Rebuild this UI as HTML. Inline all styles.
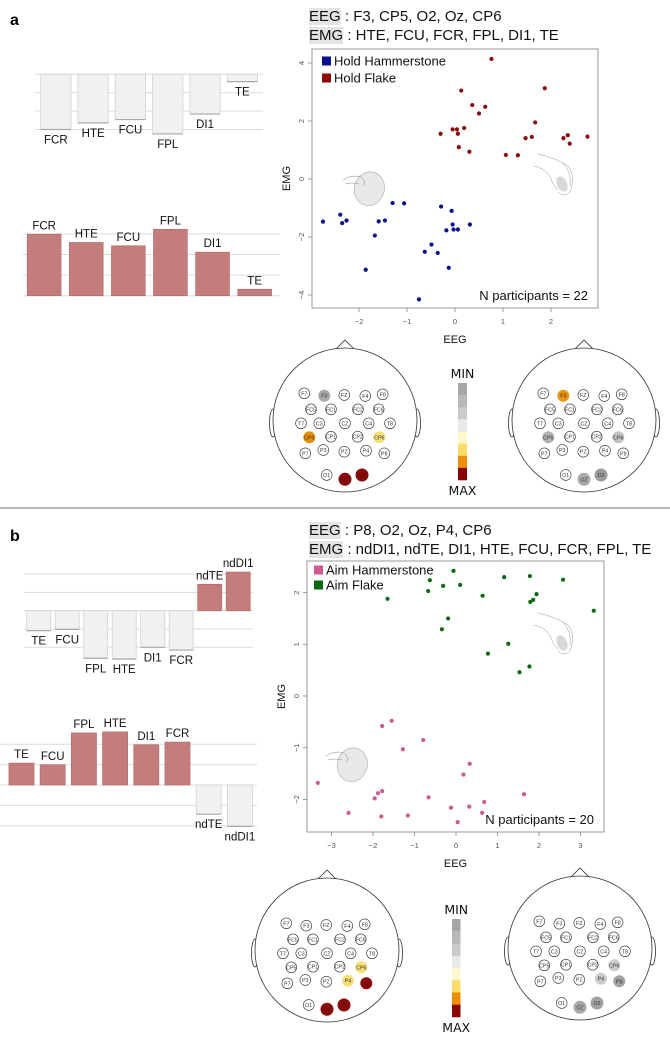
<!DOCTYPE html>
<html><head><meta charset="utf-8">
<style>
html,body{margin:0;padding:0;background:#fff;}
#wrap{position:relative;width:670px;height:1039px;overflow:hidden;font-family:"Liberation Sans",sans-serif;}
svg{position:absolute;left:0;top:0;}
.hdr{position:absolute;font-size:15px;color:#111;white-space:nowrap;line-height:19px;}
.hl{background:#e4e4e4;}
</style></head>
<body>
<div id="wrap">
<svg id="svg" width="670" height="1039" viewBox="0 0 670 1039"></svg>
<div class="hdr" style="left:309px;top:7px;"><span class="hl">EEG</span> : F3, CP5, O2, Oz, CP6</div>
<div class="hdr" style="left:309px;top:26px;"><span class="hl">EMG</span> : HTE, FCU, FCR, FPL, DI1, TE</div>
<div class="hdr" style="left:309px;top:521px;"><span class="hl">EEG</span> : P8, O2, Oz, P4, CP6</div>
<div class="hdr" style="left:309px;top:540px;"><span class="hl">EMG</span> : ndDI1, ndTE, DI1, HTE, FCU, FCR, FPL, TE</div>
</div>
<script>
// ---------- DATA ----------
const barsATopCats = ['FCR','HTE','FCU','FPL','DI1','TE'];
const barsATopVals = [-3.0,-2.64,-2.46,-3.24,-2.16,-0.4];
const barsABotCats = ['FCR','HTE','FCU','FPL','DI1','TE'];
const barsABotVals = [2.98,2.58,2.42,3.22,2.11,0.31];
const barsBTopCats = ['TE','FCU','FPL','HTE','DI1','FCR','ndTE','ndDI1'];
const barsBTopVals = [-1.09,-1.02,-2.6,-2.64,-2.0,-2.15,1.44,2.11];
const barsBBotCats = ['TE','FCU','FPL','HTE','DI1','FCR','ndTE','ndDI1'];
const barsBBotVals = [1.07,0.99,2.55,2.6,1.97,2.1,-1.43,-2.03];

const holdHammerX = [-2.75,-2.39,-2.35,-2.26,-1.86,-1.67,-1.59,-1.46,-1.30,-1.06,-0.75,-0.63,-0.49,-0.36,-0.29,-0.18,-0.13,-0.07,-0.05,-0.03,0.06,0.31];
const holdHammerY = [-1.47,-1.23,-1.52,-1.43,-3.13,-1.95,-1.46,-1.43,-0.83,-0.84,-4.15,-2.51,-2.26,-2.55,-0.95,-1.77,-3.06,-1.10,-1.57,-1.74,-1.74,-1.57];
const holdFlakeX = [0.76,0.13,1.87,0.36,0.63,0.50,1.67,-0.30,-0.05,0.04,0.19,0.06,0.08,0.30,1.06,1.31,1.47,1.60,2.26,2.35,2.39,2.76];
const holdFlakeY = [4.14,3.05,3.13,2.55,2.49,2.26,1.95,1.56,1.71,1.71,1.76,1.56,1.10,0.94,0.83,0.82,1.41,1.45,1.41,1.51,1.22,1.46];
const aimFlakeX = [-0.06,-0.63,-0.31,0.10,-0.67,-1.65,1.16,1.78,2.58,0.64,1.94,1.86,1.79,3.32,-0.19,-0.34,1.26,0.77,1.77,1.53];
const aimFlakeY = [2.42,2.24,2.13,2.15,2.03,1.88,2.30,2.32,2.25,1.94,1.97,1.86,1.82,1.65,1.50,1.29,1.01,0.82,0.57,0.46];
const aimHammerX = [-1.55,-1.78,-0.79,-1.28,0.33,0.18,-3.33,-1.78,-1.88,-1.96,-0.66,1.64,-2.59,-1.80,-1.16,-0.12,0.32,0.68,0.63,0.04];
const aimHammerY = [-0.48,-0.58,-0.85,-1.03,-1.31,-1.52,-1.68,-1.84,-1.88,-1.98,-1.96,-1.90,-2.26,-2.33,-2.31,-2.16,-2.14,-2.05,-2.26,-2.44];
const ticksAX = [-2,-1,0,1,2];
const ticksAY = [-4,-2,0,2,4];
const ticksBX = [-3,-2,-1,0,1,2,3];
const ticksBY = [-2,-1,0,1,2];

const electrodeNames = ['F7','F3','FZ','F4','F8','FC5','FC1','FC2','FC6','T7','C3','CZ','C4','T8','CP5','CP1','CP2','CP6','P7','P3','PZ','P4','P8','O1','OZ','O2'];
const headALeftFill = {F3:'#a9a9a9',CP5:'#e8900c',CP6:'#f9df78',OZ:'#8a0a0a',O2:'#8a0a0a'};
const headARightFill = {F3:'#ec9410',CP5:'#b4b4b4',CP6:'#c2c2c2',OZ:'#aaaaaa',O2:'#9c9c9c'};
const headBLeftFill = {CP6:'#f9df78',P4:'#f9df78',P8:'#8a0a0a',OZ:'#8a0a0a',O2:'#8a0a0a'};
const headBRightFill = {CP6:'#cccccc',P4:'#cccccc',P8:'#a3a3a3',OZ:'#a8a8a8',O2:'#a3a3a3'};
const colorbarColors = ['#a6a6a6','#b8b8b8','#cacaca','#e9e9e9','#fff7cc','#fbdc6a','#ec8f05','#8a0606'];

// layout (not data)
const electrodeDX = [-40.7,-20.7,-0.7,20.3,37.7,-34,-14,13,33.7,-44,-25.7,0,23.7,45,-35.7,-14,12.7,34.3,-39.7,-21.7,-0.7,21,39.3,-18.3,0,17];
const electrodeDY = [-26.7,-24.3,-25,-24,-25.7,-10.7,-10.7,-10.7,-10.7,3.3,3.3,3.3,3.3,3.3,17.3,16.7,16.7,17.3,33.3,30,31.7,30.7,33.3,55,59.3,55];

const NS='http://www.w3.org/2000/svg';
const svg=document.getElementById('svg');
function mk(tag,attrs,parent){const e=document.createElementNS(NS,tag);for(const k in attrs)e.setAttribute(k,attrs[k]);(parent||svg).appendChild(e);return e;}
function txt(s,attrs,parent){const e=mk('text',attrs,parent);e.textContent=s;return e;}

let t=txt('a',{x:10,y:25,'font-size':16,'font-weight':'bold','font-family':'Liberation Sans, sans-serif'});


t=txt('b',{x:10,y:541,'font-size':16,'font-weight':'bold','font-family':'Liberation Sans, sans-serif'});


let sep=mk('line',{x1:0,y1:508,x2:670,y2:508,stroke:'#8c8c8c','stroke-width':1.2});



// ---------- BAR CHARTS ----------
function barChart(name,cats,vals,cfg){
  const g=mk('g',{});
  
  
  const yOf=v=>cfg.base - v*cfg.unit;
  cfg.grid.forEach(gv=>{
    const l=mk('line',{x1:cfg.gx0,x2:cfg.gx1,y1:yOf(gv),y2:yOf(gv),stroke:'#dcdcdc','stroke-width':1},g);
    
    
  });
  cats.forEach((c,i)=>{
    const v=vals[i];
    const x=cfg.start+i*cfg.pitch;
    const y0=yOf(Math.max(v,0)), y1=yOf(Math.min(v,0));
    const red=(v>0)===cfg.posRed;
    const r=mk('rect',{x:x,y:y0,width:cfg.w,height:Math.max(1,y1-y0),fill:red?'#c47d7d':'#f1f1f1',stroke:red?'#b86e6e':'#d2d2d2','stroke-width':0.8},g);
    
    
    if(!red){
      const sh=mk('line',{x1:x,x2:x+cfg.w,y1:v<0?y1:y0,y2:v<0?y1:y0,stroke:'#a8a8a8','stroke-width':1.2},g);
      
      
    }
    const ly = v<0 ? y1+14 : y0-5;
    const lb=txt(c,{x:x+cfg.w/2,y:ly,'text-anchor':'middle','font-size':11.5,'font-family':'Liberation Sans, sans-serif',fill:'#111'},g);
    
    
  });
}
barChart('bars-a-hold-hammer',barsATopCats,barsATopVals,{base:74.3,unit:18.4,start:40.7,pitch:37.3,w:30.3,grid:[0,-1,-2,-3],gx0:35,gx1:263,posRed:true});
barChart('bars-a-hold-flake',barsABotCats,barsABotVals,{base:295.7,unit:20.6,start:27.3,pitch:42.1,w:33.7,grid:[0,1,2,3],gx0:23,gx1:280,posRed:true});
barChart('bars-b-aim-hammer',barsBTopCats,barsBTopVals,{base:610.7,unit:18.3,start:26.7,pitch:28.5,w:24,grid:[-2,-1,0,1,2],gx0:24,gx1:253,posRed:true});
barChart('bars-b-aim-flake',barsBBotCats,barsBBotVals,{base:785,unit:20.4,start:9,pitch:31.2,w:25,grid:[-2,-1,0,1,2],gx0:0,gx1:257,posRed:true});

// ---------- illustrations ----------
function rock(cx,cy,name){
  const g=mk('g',{});
  
  
  mk('ellipse',{cx:cx+3,cy:cy+2,rx:15,ry:17,fill:'#e8e8e8',stroke:'#aaa','stroke-width':0.6,transform:`rotate(15 ${cx} ${cy})`},g);
  mk('path',{d:`M${cx-24} ${cy-6} Q${cx-16} ${cy-12} ${cx-6} ${cy-9} Q${cx} ${cy-4} ${cx-4} ${cy} M${cx-22} ${cy-2} Q${cx-14} ${cy-4} ${cx-8} ${cy-2}`,fill:'none',stroke:'#888','stroke-width':0.5},g);
}
function hand(cx,cy,name){
  const g=mk('g',{});
  
  
  mk('path',{d:`M${cx-18} ${cy-22} Q${cx} ${cy-18} ${cx+12} ${cy-10} Q${cx+20} ${cy} ${cx+14} ${cy+16} Q${cx+8} ${cy+22} ${cx+2} ${cy+16} M${cx-22} ${cy-10} Q${cx-12} ${cy-8} ${cx-6} ${cy} Q${cx-4} ${cy+8} ${cx+2} ${cy+14} M${cx+6} ${cy-14} Q${cx+16} ${cy-4} ${cx+14} ${cy+10}`,fill:'none',stroke:'#999','stroke-width':0.5},g);
  mk('ellipse',{cx:cx+6,cy:cy+8,rx:5,ry:8,fill:'#d8d8d8',transform:`rotate(-25 ${cx+6} ${cy+8})`},g);
}

// ---------- SCATTER ----------
function scatter(name,cfg,series,tx,ty,nText){
  const g=mk('g',{});
  
  
  const X=v=>cfg.x0px+v*cfg.ux, Y=v=>cfg.y0px-v*cfg.uy;
  cfg.illus();
  const fr=mk('rect',{x:cfg.L,y:cfg.T,width:cfg.R-cfg.L,height:cfg.B-cfg.T,fill:'none',stroke:'#999','stroke-width':1},g);
  
  
  tx.forEach(v=>{
    const l=mk('line',{x1:X(v),x2:X(v),y1:cfg.B,y2:cfg.B+4,stroke:'#888','stroke-width':0.8},g);
    
    
    const s=txt(String(v).replace('-','\u2212'),{x:X(v),y:cfg.B+16,'text-anchor':'middle','font-size':7.5,fill:'#555','font-family':'Liberation Sans, sans-serif'},g);
    
    
  });
  ty.forEach(v=>{
    const l=mk('line',{x1:cfg.L-4,x2:cfg.L,y1:Y(v),y2:Y(v),stroke:'#888','stroke-width':0.8},g);
    
    
    const s=txt(String(v).replace('-','\u2212'),{x:cfg.L-8,y:Y(v),'text-anchor':'middle','font-size':7.5,fill:'#555','font-family':'Liberation Sans, sans-serif',transform:`rotate(-90 ${cfg.L-8} ${Y(v)})`},g);
    
    
  });
  let xl=txt('EEG',{x:(cfg.L+cfg.R)/2,y:cfg.B+35,'text-anchor':'middle','font-size':11,fill:'#111','font-family':'Liberation Sans, sans-serif'},g);
  
  
  const ym=(cfg.T+cfg.B)/2;
  let yl=txt('EMG',{x:cfg.L-22,y:ym,'text-anchor':'middle','font-size':11,fill:'#111','font-family':'Liberation Sans, sans-serif',transform:`rotate(-90 ${cfg.L-22} ${ym})`},g);
  
  
  series.forEach((s,si)=>{
    s.xs.forEach((xv,i)=>{
      const c=mk('circle',{cx:X(xv),cy:Y(s.ys[i]),r:2.1,fill:s.color},g);
      
      
    });
    const ly=cfg.legY+si*cfg.legDY;
    const sq=mk('rect',{x:cfg.legX,y:ly-4.5,width:9,height:9,fill:s.color},g);
    
    
    const lt=txt(s.label,{x:cfg.legX+12,y:ly+4.5,'font-size':13,fill:'#111','font-family':'Liberation Sans, sans-serif'},g);
    
    
  });
  const n=txt(nText,{x:cfg.R-10,y:cfg.B-8,'text-anchor':'end','font-size':13,fill:'#111','font-family':'Liberation Sans, sans-serif'},g);
  
  
}
scatter('scatter-a',{L:312,R:598,T:49,B:308,x0px:455,ux:48,y0px:179,uy:29,legX:322,legY:61,legDY:17,
  illus:()=>{rock(367,186,'hammerstone-illustration-a');hand(556,176,'flake-hand-illustration-a');}},
  [{key:'hold-hammerstone',label:'Hold Hammerstone',color:'#0a0f8c',xs:holdHammerX,ys:holdHammerY},
   {key:'hold-flake',label:'Hold Flake',color:'#8c0a0a',xs:holdFlakeX,ys:holdFlakeY}],ticksAX,ticksAY,'N participants = 22');
scatter('scatter-b',{L:307,R:604,T:561,B:832,x0px:456,ux:41.5,y0px:696,uy:51.7,legX:314,legY:570,legDY:15,
  illus:()=>{rock(350,762,'hammerstone-illustration-b');hand(556,635,'flake-hand-illustration-b');}},
  [{key:'aim-hammerstone',label:'Aim Hammerstone',color:'#cc5a90',xs:aimHammerX,ys:aimHammerY},
   {key:'aim-flake',label:'Aim Flake',color:'#0b6a10',xs:aimFlakeX,ys:aimFlakeY}],ticksBX,ticksBY,'N participants = 20');

// ---------- HEAD MAPS ----------
function head(name,cx,cy,fills){
  const g=mk('g',{});
  
  
  mk('path',{d:`M${cx-12} ${cy-68} L${cx} ${cy-80} L${cx+12} ${cy-68}`,fill:'#fff',stroke:'#333','stroke-width':0.8},g);
  mk('ellipse',{cx:cx-72,cy:cy+3,rx:3.5,ry:14,fill:'#fff',stroke:'#333','stroke-width':0.8},g);
  mk('ellipse',{cx:cx+72,cy:cy+3,rx:3.5,ry:14,fill:'#fff',stroke:'#333','stroke-width':0.8},g);
  mk('circle',{cx:cx,cy:cy,r:72,fill:'#fff',stroke:'#333','stroke-width':0.8},g);
  electrodeNames.forEach((e,i)=>{
    const f=fills[e];
    const c=mk('circle',{cx:cx+electrodeDX[i],cy:cy+electrodeDY[i],r:f?((e==='OZ'||e==='O2')?6.5:6):5.4,fill:f||'#fff',stroke:f?'none':'#333','stroke-width':0.6},g);
    
    
    const tt=txt(e,{x:cx+electrodeDX[i],y:cy+electrodeDY[i]+2,'text-anchor':'middle','font-size':5.3,fill:f==='#8a0a0a'?'#5a0000':'#333','font-family':'Liberation Sans, sans-serif'},g);
    
    
  });
}
head('head-map-a-hammer',345,420,headALeftFill);
head('head-map-a-flake',584,420,headARightFill);
head('head-map-b-hammer',327,950,headBLeftFill);
head('head-map-b-flake',580,948,headBRightFill);

function colorbar(name,x,y0,y1,w){
  const g=mk('g',{});
  
  
  const h=(y1-y0)/colorbarColors.length;
  colorbarColors.forEach((c,i)=>{
    const r=mk('rect',{x:x,y:y0+i*h,width:w,height:h+0.3,fill:c},g);
    
    
  });
  const a=txt('MIN',{x:x+w/2,y:y0-5,'text-anchor':'middle','font-size':12.5,fill:'#111','font-family':'DejaVu Sans, sans-serif'},g);
  
  
  const b=txt('MAX',{x:x+w/2,y:y1+15,'text-anchor':'middle','font-size':12.5,fill:'#111','font-family':'DejaVu Sans, sans-serif'},g);
  
  
}
colorbar('colorbar-a',458,383,480,9);
colorbar('colorbar-b',452,919,1017,8.5);
</script>
</body></html>
